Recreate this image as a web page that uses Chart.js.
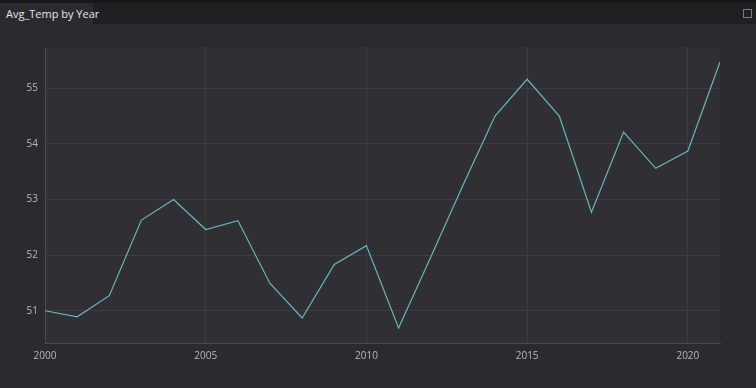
<!DOCTYPE html>
<html>
<head>
<meta charset="utf-8">
<script src="https://cdn.jsdelivr.net/npm/chart.js@4/dist/chart.umd.min.js"></script>
<style>
  html, body { margin: 0; padding: 0; background: #2b2a2e; width: 756px; height: 388px; overflow: hidden; }
  #bar { position: absolute; left: 0; top: 0; width: 756px; height: 24px; background: #201f22; border-top: 3px solid #19181b; box-sizing: border-box; }
  #tab { position: absolute; left: 0; top: 3px; width: 93px; height: 21px; background: #2b2a2e; color: #e6e5e8;
         font: 11px "Open Sans", sans-serif; line-height: 21px; padding-left: 6px; box-sizing: border-box; white-space: nowrap; }
  #box { position: absolute; left: 743px; top: 9px; width: 7px; height: 7px; border: 1px solid #7d7b80; }
  #wrap { position: absolute; left: 0; top: 24px; width: 756px; height: 364px; }
</style>
</head>
<body>
<div id="bar"></div>
<div id="tab">Avg_Temp by Year</div>
<div id="box"></div>
<div id="wrap"><canvas id="myChart"></canvas></div>
<script>
const years = [2000, 2001, 2002, 2003, 2004, 2005, 2006, 2007, 2008, 2009, 2010,
  2011, 2012, 2013, 2014, 2015, 2016, 2017, 2018, 2019, 2020, 2021]
const avgTemp = [51.00, 50.89, 51.27, 52.63, 53.00, 52.46, 52.62, 51.49, 50.87, 51.83, 52.17,
  50.69, 51.96, 53.25, 54.50, 55.16, 54.50, 52.77, 54.21, 53.56, 53.87, 55.47]
const yTicks = [51, 52, 53, 54, 55]

const ctx = document.getElementById('myChart')

// plot area background
const plotBg = {
  id: 'plotBg',
  beforeDraw(chart) {
    const a = chart.chartArea
    chart.ctx.save()
    chart.ctx.fillStyle = '#302f34'
    chart.ctx.fillRect(a.left, a.top, a.right - a.left, a.bottom - a.top)
    chart.ctx.restore()
  }
}

new Chart(ctx, {
  type: 'line',
  data: {
    datasets: [{
      label: 'Avg_Temp',
      data: years.map((y, i) => ({ x: y, y: avgTemp[i] })),
      borderColor: '#63b8bf',
      borderWidth: 1.2,
      pointRadius: 0,
      tension: 0,
      fill: false
    }]
  },
  options: {
    responsive: true,
    maintainAspectRatio: false,
    animation: false,
    layout: { padding: { left: 0, top: 23, right: 36, bottom: 0 } },
    plugins: { legend: { display: false }, tooltip: { enabled: false } },
    scales: {
      x: {
        type: 'linear',
        min: 2000,
        max: 2021,
        afterFit(scale) { scale.height = 45 },
        afterBuildTicks(scale) { scale.ticks = [2000, 2005, 2010, 2015, 2020].map(v => ({ value: v })) },
        ticks: { color: '#b9b7bd', font: { family: 'Open Sans', size: 10 }, padding: 7, maxRotation: 0,
          callback: v => String(v) },
        grid: { color: '#3d3c42', drawTicks: false },
        border: { color: '#4b4a50' }
      },
      y: {
        min: 50.42,
        max: 55.74,
        afterFit(scale) { scale.width = 45 },
        afterBuildTicks(scale) { scale.ticks = yTicks.map(v => ({ value: v })) },
        ticks: { color: '#b9b7bd', font: { family: 'Open Sans', size: 10 }, padding: 7 },
        grid: { color: '#3d3c42', drawTicks: false },
        border: { color: '#4b4a50' }
      }
    }
  },
  plugins: [plotBg]
});
</script>
</body>
</html>
